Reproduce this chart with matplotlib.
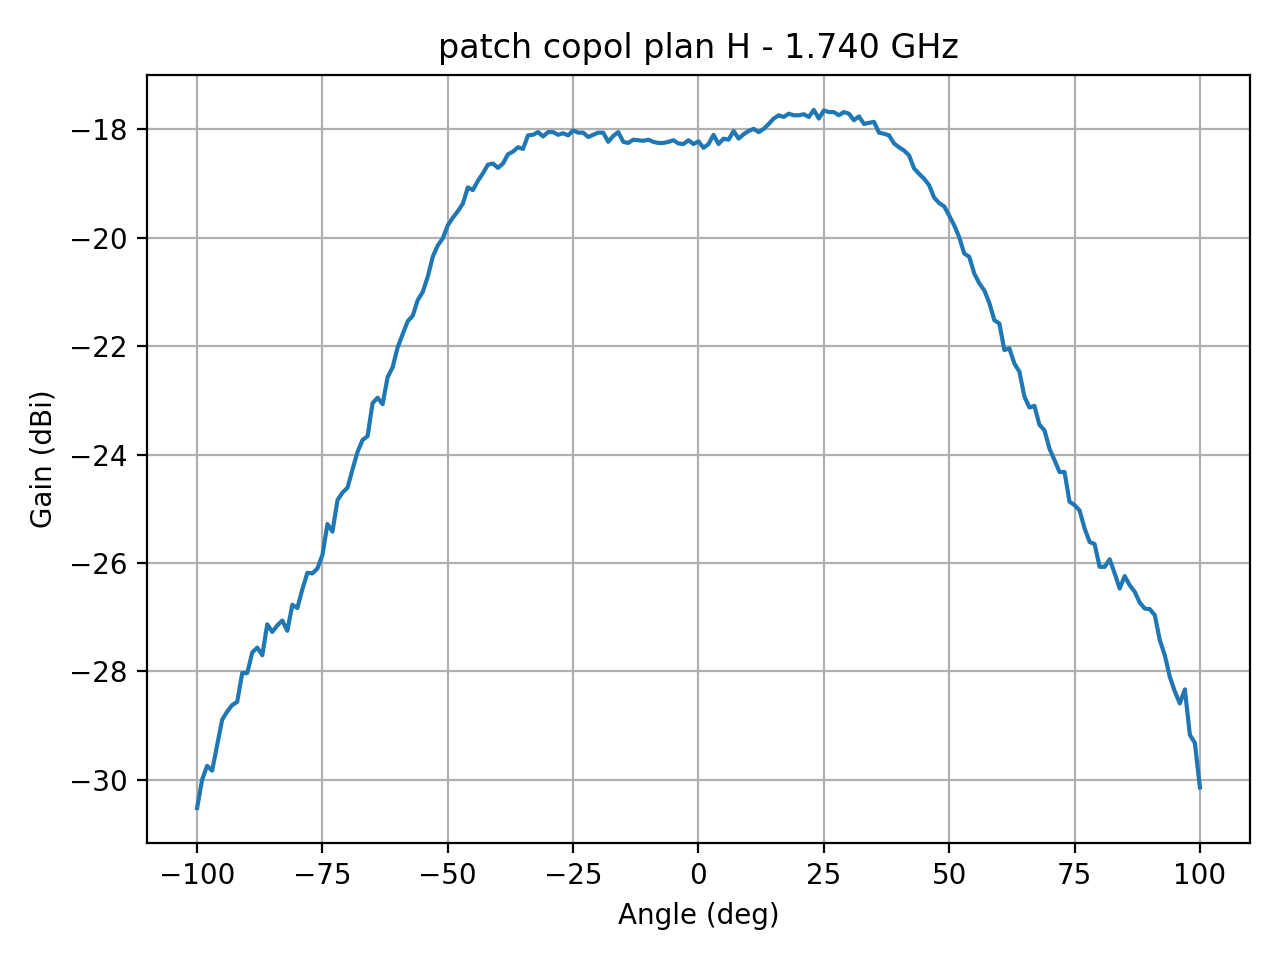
import numpy as np
import matplotlib
matplotlib.use("Agg")
import matplotlib.pyplot as plt

# angle grid, 1 deg step
angle = np.arange(-100, 101, 1)

# gain (dBi)
gain = [
    -30.52, -30.00, -29.74, -29.83, -29.36, -28.89, -28.74, -28.62, -28.56, -28.03,  # -100..-91
    -28.03, -27.65, -27.56, -27.70, -27.13, -27.27, -27.15, -27.06, -27.25, -26.77,  # -90..-81
    -26.83, -26.48, -26.18, -26.19, -26.10, -25.85, -25.28, -25.42, -24.84, -24.70,  # -80..-71
    -24.61, -24.27, -23.95, -23.73, -23.66, -23.05, -22.95, -23.07, -22.57, -22.39,  # -70..-61
    -22.02, -21.78, -21.54, -21.44, -21.15, -21.00, -20.72, -20.35, -20.14, -20.01,  # -60..-51
    -19.77, -19.63, -19.51, -19.37, -19.07, -19.12, -18.95, -18.81, -18.65, -18.63,  # -50..-41
    -18.71, -18.63, -18.46, -18.41, -18.33, -18.36, -18.11, -18.10, -18.05, -18.13,  # -40..-31
    -18.05, -18.05, -18.10, -18.07, -18.11, -18.02, -18.06, -18.06, -18.14, -18.10,  # -30..-21
    -18.06, -18.06, -18.23, -18.12, -18.05, -18.23, -18.25, -18.19, -18.20, -18.21,  # -20..-11
    -18.19, -18.23, -18.25, -18.25, -18.23, -18.20, -18.26, -18.27, -18.20, -18.27,  # -10..-1
    -18.22,                                                                          # 0
    -18.34, -18.27, -18.10, -18.27, -18.17, -18.19, -18.03, -18.17, -18.09, -18.03,  # 1..10
    -17.99, -18.05, -17.99, -17.90, -17.80, -17.74, -17.77, -17.71, -17.74, -17.74,  # 11..20
    -17.72, -17.77, -17.64, -17.80, -17.65, -17.68, -17.68, -17.74, -17.68, -17.71,  # 21..30
    -17.83, -17.76, -17.90, -17.88, -17.86, -18.06, -18.08, -18.11, -18.26, -18.33,  # 31..40
    -18.39, -18.48, -18.72, -18.82, -18.91, -19.03, -19.26, -19.36, -19.42, -19.59,  # 41..50
    -19.77, -19.99, -20.29, -20.35, -20.66, -20.84, -20.97, -21.20, -21.52, -21.58,  # 51..60
    -22.07, -22.04, -22.32, -22.47, -22.93, -23.13, -23.10, -23.45, -23.55, -23.89,  # 61..70
    -24.10, -24.32, -24.32, -24.87, -24.93, -25.03, -25.36, -25.61, -25.65, -26.07,  # 71..80
    -26.07, -25.93, -26.19, -26.47, -26.24, -26.41, -26.53, -26.73, -26.84, -26.85,  # 81..90
    -26.96, -27.42, -27.70, -28.10, -28.37, -28.59, -28.33, -29.17, -29.32, -30.14,  # 91..100
]

fig, ax = plt.subplots(figsize=(6.4, 4.8), dpi=200)
ax.plot(angle, gain)
ax.set_title("patch copol plan H - 1.740 GHz")
ax.set_xlabel("Angle (deg)")
ax.set_ylabel("Gain (dBi)")
ax.grid(True)
fig.subplots_adjust(left=0.1148, right=0.9766, top=0.9219, bottom=0.1219)
fig.savefig("out.png")
